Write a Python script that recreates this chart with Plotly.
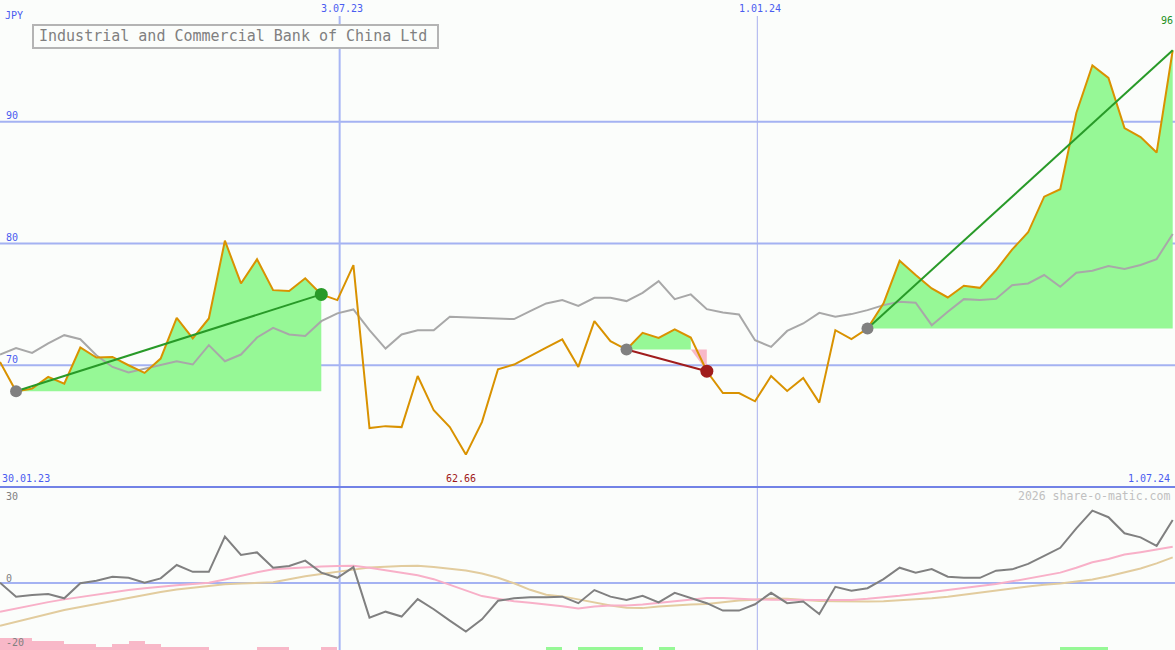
import pandas as pd
import plotly.graph_objects as go

W, H = 1175, 650

# ---------------- data ----------------
start_date = "2023-02-05"
n_weeks = 74

price = [70.27, 67.86, 68.08, 69.04, 68.49, 71.46, 70.63, 70.68, 70.00, 69.37,
         70.55, 73.89, 72.20, 73.84, 80.23, 76.72, 78.70, 76.17, 76.09, 77.14,
         75.82, 75.35, 78.23, 64.84, 65.00, 64.92, 69.12, 66.30, 64.92, 62.66,
         65.33, 69.67, 70.06, 70.72, 71.44, 72.12, 69.86, 73.62, 71.98, 71.29,
         72.66, 72.25, 72.94, 72.28, 69.51, 67.72, 67.72, 67.04, 69.12, 67.89,
         68.96, 66.93, 72.88, 72.14, 73.02, 75.08, 78.58, 77.41, 76.31, 75.57,
         76.53, 76.36, 77.80, 79.50, 80.92, 83.85, 84.46, 90.72, 94.63, 93.60,
         89.48, 88.74, 87.47, 95.87]

avg = [70.88, 71.42, 71.01, 71.79, 72.47, 72.14, 70.82, 69.86, 69.40, 69.73,
       70.06, 70.33, 70.06, 71.65, 70.33, 70.88, 72.28, 73.07, 72.53, 72.41,
       73.62, 74.26, 74.58, 72.88, 71.37, 72.53, 72.88, 72.88, 73.98, 73.93,
       73.89, 73.89, 73.79, 74.44, 75.08, 75.35, 74.88, 75.54, 75.54, 75.27,
       75.95, 76.91, 75.43, 75.82, 74.61, 74.34, 74.17, 72.06, 71.51, 72.82,
       73.43, 74.30, 73.98, 74.20, 74.53, 74.94, 75.21, 75.13, 73.29, 74.39,
       75.43, 75.35, 75.45, 76.58, 76.72, 77.41, 76.44, 77.60, 77.76, 78.15,
       77.90, 78.23, 78.72, 80.78]

mom = [0.1, -5.0, -4.4, -4.0, -5.6, -0.1, 0.8, 2.3, 1.9, 0.1,
       1.7, 6.6, 4.1, 4.1, 17.0, 10.3, 11.2, 5.6, 6.2, 8.2,
       3.8, 1.9, 5.8, -12.7, -10.5, -12.3, -5.9, -9.6, -13.8, -17.8,
       -13.3, -6.5, -5.6, -5.2, -5.2, -5.0, -7.4, -2.6, -5.0, -6.2,
       -4.7, -7.1, -3.6, -5.4, -7.4, -10.1, -10.1, -7.8, -3.6, -7.4,
       -6.8, -11.4, -1.4, -2.8, -1.9, 1.4, 5.6, 3.8, 5.1, 2.3,
       1.9, 1.9, 4.5, 5.0, 7.0, 9.9, 12.9, 20.0, 26.5, 24.1,
       18.2, 16.7, 13.6, 23.1]

mom_fast = [-10.5, -9.3, -8.1, -7.0, -6.0, -5.1, -4.2, -3.4, -2.6, -1.9,
            -1.3, -0.8, -0.4, 0.1, 1.3, 2.7, 3.9, 5.0, 5.4, 5.8,
            6.0, 6.2, 6.3, 5.6, 4.6, 3.7, 2.8, 1.4, -0.6, -2.8,
            -4.8, -5.8, -6.7, -7.2, -7.8, -8.5, -9.3, -8.6, -8.2, -8.2,
            -7.9, -7.3, -6.8, -6.3, -5.5, -5.5, -5.8, -6.0, -6.1, -6.2,
            -6.2, -6.2, -6.2, -6.2, -5.8, -5.3, -4.7, -4.0, -3.3, -2.6,
            -1.9, -1.2, -0.4, 0.6, 1.6, 2.6, 3.8, 5.6, 7.6, 8.8,
            10.4, 11.3, 12.2, 13.3]

mom_slow = [-15.7, -14.2, -12.7, -11.3, -9.9, -8.8, -7.7, -6.4, -5.4, -4.3,
            -3.3, -2.4, -1.7, -1.1, -0.5, -0.2, 0.0, 0.3, 1.4, 2.5,
            3.3, 4.0, 4.9, 5.7, 6.0, 6.2, 6.3, 5.9, 5.2, 4.6,
            3.5, 1.9, -0.1, -2.5, -4.3, -4.9, -6.0, -7.2, -8.2, -9.1,
            -9.2, -8.6, -8.2, -7.9, -7.7, -7.0, -6.4, -6.1, -5.7, -5.8,
            -6.3, -6.6, -6.7, -6.8, -6.8, -6.7, -6.4, -6.0, -5.6, -5.0,
            -4.2, -3.5, -2.8, -2.0, -1.3, -0.6, -0.2, 0.5, 1.3, 2.5,
            3.9, 5.3, 7.2, 9.4]

signal_bars = [-4, -4, -3, -3, -2, -2, -1, -2, -3, -2,
               -1, -1, -1, 0, 0, 0, -1, -1, 0, 0,
               -1, 0, 0, 0, 0, 0, 0, 0, 0, 0,
               0, 0, 0, 0, 1, 0, 1, 1, 1, 1,
               0, 1, 0, 0, 0, 0, 0, 0, 0, 0,
               0, 0, 0, 0, 0, 0, 0, 0, 0, 0,
               0, 0, 0, 0, 0, 0, 1, 1, 1, 0,
               0, 0, 0, 0]

seg_start = [1, 39, 54]
seg_end = [20, 44, 73]

price_ticks = [90, 80, 70]
date_lines = ["2023-07-03", "2024-01-01"]
date_line_labels = ["3.07.23", "1.01.24"]
low_label = "62.66"
high_label = "96"

# ---------------- styling ----------------
BG = "#fbfdfb"
BLUE_TXT = "#4a5cf0"
GRID = "#a4b2f2"
SEP = "#7282e6"
ORANGE = "#d99200"
GREY = "#a8a8a8"
FILL_G = "#96f896"
FILL_P = "#f8b8c8"
TREND_G = "#289a28"
TREND_R = "#a01c1c"
MONO = "DejaVu Sans Mono"

dates = pd.date_range(start_date, periods=n_weeks, freq="7D")
x_range = [pd.Timestamp(start_date), pd.Timestamp("2024-07-01")]


def px(x):
    return x / W


def py(y):
    return 1 - y / H


split = py(487)

fig = go.Figure()

# ---- segment fills ----
for s, e in zip(seg_start, seg_end):
    base = price[s]
    m = s
    while m < e and price[m + 1] >= base:
        m += 1
    gx = list(dates[s:m + 1])
    gy = [max(v, base) for v in price[s:m + 1]]
    fig.add_trace(go.Scatter(x=gx + gx[::-1], y=gy + [base] * len(gx),
                             fill="toself", fillcolor=FILL_G, mode="none",
                             hoverinfo="skip", showlegend=False))
    if m < e:
        rx = list(dates[m:e + 1])
        ry = [min(v, base) for v in price[m:e + 1]]
        fig.add_trace(go.Scatter(x=rx + rx[::-1], y=ry + [base] * len(rx),
                                 fill="toself", fillcolor=FILL_P, mode="none",
                                 hoverinfo="skip", showlegend=False))

# ---- main lines ----
fig.add_trace(go.Scatter(x=dates, y=avg, mode="lines",
                         line=dict(color=GREY, width=2), showlegend=False))
fig.add_trace(go.Scatter(x=dates, y=price, mode="lines",
                         line=dict(color=ORANGE, width=2), showlegend=False))

# ---- trend lines and markers ----
for s, e in zip(seg_start, seg_end):
    up = price[e] >= price[s]
    col = TREND_G if up else TREND_R
    fig.add_trace(go.Scatter(x=[dates[s], dates[e]], y=[price[s], price[e]],
                             mode="lines", line=dict(color=col, width=2),
                             showlegend=False))
    fig.add_trace(go.Scatter(x=[dates[s]], y=[price[s]], mode="markers",
                             marker=dict(color="#808080", size=12),
                             showlegend=False))
    if e < n_weeks - 1:
        fig.add_trace(go.Scatter(x=[dates[e]], y=[price[e]], mode="markers",
                                 marker=dict(color=col, size=13),
                                 showlegend=False))

# ---- lower panel ----
bar_x = dates + pd.Timedelta(hours=84)
fig.add_trace(go.Bar(x=bar_x, y=[abs(v) for v in signal_bars],
                     marker=dict(color=[FILL_G if v > 0 else FILL_P for v in signal_bars],
                                 line=dict(width=0)),
                     width=7 * 86400000, xaxis="x2", yaxis="y3",
                     showlegend=False))
fig.add_trace(go.Scatter(x=dates, y=mom_slow, mode="lines", xaxis="x2", yaxis="y2",
                         line=dict(color="#e2cc9e", width=2), showlegend=False))
fig.add_trace(go.Scatter(x=dates, y=mom_fast, mode="lines", xaxis="x2", yaxis="y2",
                         line=dict(color="#f8b0c8", width=2), showlegend=False))
fig.add_trace(go.Scatter(x=dates, y=mom, mode="lines", xaxis="x2", yaxis="y2",
                         line=dict(color="#808080", width=2), showlegend=False))

shapes = []
for t in price_ticks:
    shapes.append(dict(type="line", xref="paper", yref="y", x0=0, x1=1, y0=t, y1=t,
                       line=dict(color=GRID, width=2), layer="below"))
shapes.append(dict(type="line", xref="paper", yref="y2", x0=0, x1=1, y0=0, y1=0,
                   line=dict(color=GRID, width=2), layer="below"))
shapes.append(dict(type="line", xref="x", yref="paper", x0=date_lines[0], x1=date_lines[0],
                   y0=0, y1=py(16), line=dict(color="#a8b6f4", width=2), layer="below"))
shapes.append(dict(type="line", xref="x", yref="paper", x0=date_lines[1], x1=date_lines[1],
                   y0=0, y1=py(16), line=dict(color="#a8b0ee", width=1), layer="below"))
shapes.append(dict(type="line", xref="paper", yref="paper", x0=0, x1=1, y0=split, y1=split,
                   line=dict(color=SEP, width=2)))
# title box
shapes.append(dict(type="rect", xref="paper", yref="paper", x0=px(33), x1=px(438),
                   y0=py(48), y1=py(25), line=dict(color="#b4b4b4", width=2),
                   fillcolor=BG))

annotations = []


def label(text, x, y, color, size=10, xanchor="left"):
    annotations.append(dict(text=text, x=px(x), y=py(y), xref="paper", yref="paper",
                            xanchor=xanchor, yanchor="middle", showarrow=False,
                            font=dict(family=MONO, size=size, color=color)))


label("JPY", 3, 16, BLUE_TXT)
for t in price_ticks:
    yy = 487 - (t - 60) * 487 / 40 - 6
    label(str(t), 4, yy, BLUE_TXT)
label(date_line_labels[0], 342, 8.5, BLUE_TXT, xanchor="center")
label(date_line_labels[1], 760, 8.5, BLUE_TXT, xanchor="center")
label("30.01.23", 0, 478.5, BLUE_TXT)
label("1.07.24", 1172, 478.5, BLUE_TXT, xanchor="right")
label(low_label, 461, 478.5, "#a01818", xanchor="center")
label(high_label, 1175, 21, "#229022", xanchor="right")
label("2026 share-o-matic.com", 1172, 496, "#c0c0c0", size=11.5, xanchor="right")
label("30", 4, 496, "#808080")
label("0", 4, 578, "#808080")
label("-20", 4, 642, "#808080")
label("Industrial and Commercial Bank of China Ltd", 37, 36.5, "#808080", size=15)

axis_off = dict(visible=False, showgrid=False, zeroline=False)
fig.update_layout(
    width=W, height=H,
    margin=dict(l=0, r=0, t=0, b=0),
    paper_bgcolor=BG, plot_bgcolor=BG,
    showlegend=False,
    bargap=0,
    xaxis=dict(type="date", range=x_range, domain=[0, 1], anchor="y", **axis_off),
    xaxis2=dict(type="date", range=x_range, domain=[0, 1], anchor="y2", **axis_off),
    yaxis=dict(range=[60, 100], domain=[split, 1], anchor="x", **axis_off),
    yaxis2=dict(range=[-24.54, 35.16], domain=[0, split], anchor="x2", **axis_off),
    yaxis3=dict(range=[0, 52.9], overlaying="y2", anchor="x2", **axis_off),
    shapes=shapes,
    annotations=annotations,
)

fig.write_html(
    "out.html",
    config={"displayModeBar": False},
    post_script="document.body.style.margin='0';document.body.style.overflow='hidden';"
                "document.body.style.background='" + BG + "';",
)
